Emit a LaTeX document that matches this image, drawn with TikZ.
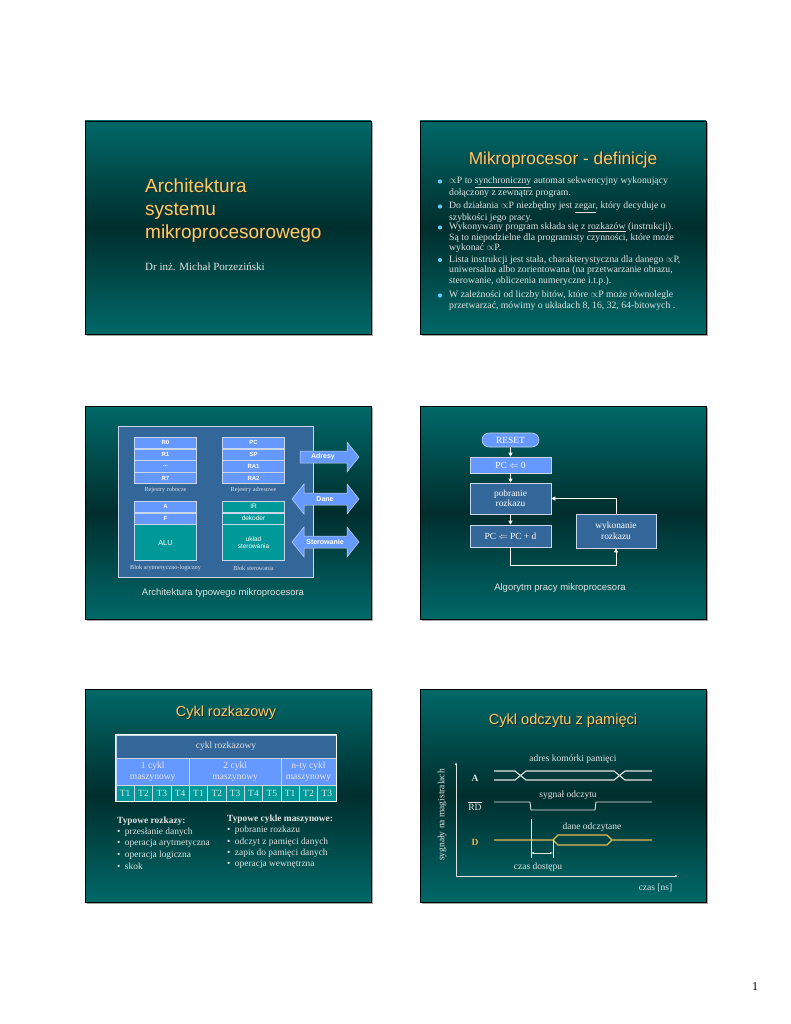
\documentclass[tikz,border=0pt]{standalone}
\usepackage{fontspec}
\setmainfont{Liberation Serif}
\setsansfont{Liberation Sans}
\usetikzlibrary{positioning,arrows.meta}
\tikzset{>=Stealth}
\definecolor{slidetop}{RGB}{0,104,104}
\definecolor{slidemid}{RGB}{0,46,46}
\definecolor{titleyellow}{RGB}{255,204,102}
\definecolor{boxblue}{RGB}{51,102,153}
\definecolor{lightblue}{RGB}{102,153,255}
\definecolor{tealbox}{RGB}{0,153,153}
\definecolor{textgray}{RGB}{228,228,228}
\definecolor{edgegray}{RGB}{200,215,235}
\definecolor{bulletcyan}{RGB}{102,204,255}
\definecolor{signalyellow}{RGB}{230,185,80}

\newcommand{\shadowed}[1]{\makebox[0pt][l]{\hspace{0.9pt}\raisebox{-0.9pt}{\color{black!85}#1}}#1}

\tikzset{
  slide/.style={draw=black, line width=0.8pt, top color=slidetop, bottom color=slidetop, middle color=slidemid},
  slidetitle/.style={font=\sffamily\fontsize{17.3}{20}\selectfont, text=titleyellow, inner sep=0pt},
  bodytext/.style={font=\fontsize{9.5}{10.5}\selectfont, text=textgray, align=left, inner sep=0pt},
  deftext/.style={bodytext, font=\fontsize{9.7}{10.4}\selectfont, anchor=north west},
  caption/.style={font=\sffamily\fontsize{9.5}{11}\selectfont, text=textgray, inner sep=0pt},
  reg/.style={draw=edgegray, line width=0.5pt, fill=lightblue, minimum width=62, minimum height=11.3, inner sep=0pt, text=white, font=\sffamily\bfseries\fontsize{6}{7}\selectfont},
  regteal/.style={reg, fill=tealbox, font=\sffamily\fontsize{6.5}{7.5}\selectfont, align=center},
  smalllabel/.style={font=\fontsize{6.2}{7}\selectfont, text=textgray, inner sep=0pt},
  busarrow/.style={draw=edgegray, fill=lightblue, line width=0.5pt},
  arrowlabel/.style={text=white, font=\sffamily\bfseries\fontsize{7}{8}\selectfont, inner sep=0pt},
  flowbox/.style={draw=edgegray, line width=0.6pt, fill=boxblue, text=white, font=\fontsize{9.4}{10.5}\selectfont, align=center, inner sep=0pt},
  flowlight/.style={flowbox, fill=lightblue},
  flow/.style={draw=white, line width=0.8pt, -{Triangle[length=4pt,width=4pt]}},
  cell/.style={draw=edgegray, line width=0.6pt, inner sep=0pt, text=textgray, font=\fontsize{9.5}{10.5}\selectfont, align=center},
  sig/.style={draw=textgray, line width=1.1pt},
  dsig/.style={draw=signalyellow, line width=1.3pt},
}

\begin{document}
\begin{tikzpicture}[x=1pt,y=-1pt]
\useasboundingbox[fill=white] (0,0) rectangle (791,1024);

% slide frames
\foreach \x in {85,420} {
  \foreach \y in {121,406,689} {
    \fill[black!35] (\x+2,\y+2) rectangle (\x+288,\y+215);
    \draw[slide] (\x,\y) rectangle (\x+286,\y+213);
  }
}

% slide 1 - title page
\node[slidetitle, font=\sffamily\fontsize{19}{23}\selectfont, anchor=north west, align=left] (tit1) at (145,179)
  {\shadowed{Architektura}\\\shadowed{systemu}\\\shadowed{mikroprocesorowego}};
\node[bodytext, font=\fontsize{11}{13}\selectfont, anchor=west] (author) at (145,267) {Dr inż. Michał Porzeziński};

% slide 2 - definitions
\node[slidetitle] (tit2) at (563,160) {\shadowed{Mikroprocesor - definicje}};
\foreach \y in {181.5,206.5,227.5,260,295.5}
  \fill[bulletcyan] (440,\y) circle (2.1);
\node[deftext] (def1) at (449,177)
  {$\propto$P to \underline{synchroniczny} automat sekwencyjny wykonujący\\dołączony z zewnątrz program.};
\node[deftext] (def2) at (449,202)
  {Do działania $\propto$P niezbędny jest \underline{zegar}, który decyduje o\\szybkości jego pracy.};
\node[deftext] (def3) at (449,223)
  {Wykonywany program składa się z \underline{rozkazów} (instrukcji).\\Są to niepodzielne dla programisty czynności, które może\\wykonać $\propto$P.};
\node[deftext] (def4) at (449,255.5)
  {Lista instrukcji jest stała, charakterystyczna dla danego $\propto$P,\\uniwersalna albo zorientowana (na przetwarzanie obrazu,\\sterowanie, obliczenia numeryczne i.t.p.).};
\node[deftext] (def5) at (449,291)
  {W zależności od liczby bitów, które $\propto$P może równolegle\\przetwarzać, mówimy o układach 8, 16, 32, 64-bitowych .};

% slide 3 - architecture
\draw[fill=boxblue, draw=edgegray, line width=0.6pt] (118,426) rectangle (313,577);
\node[reg] (rr0) at (165.5,442.6) {R0};
\node[reg, below=0pt of rr0] (rr1) {R1};
\node[reg, below=0pt of rr1] (rr2) {...};
\node[reg, below=0pt of rr2] (rr7) {R7};
\node[reg] (pc) at (253.5,442.6) {PC};
\node[reg, below=0pt of pc] (sp) {SP};
\node[reg, below=0pt of sp] (ra1) {RA1};
\node[reg, below=0pt of ra1] (ra2) {RA2};
\node[smalllabel] (lrob) at (165.5,490) {Rejestry robocze};
\node[smalllabel] (ladr) at (253.5,490) {Rejestry adresowe};

\node[reg] (ra) at (165.5,506.6) {A};
\node[reg, below=0pt of ra] (rf) {F};
\node[regteal, font=\sffamily\fontsize{7.4}{8}\selectfont, minimum height=36, below=0pt of rf] (alu) {ALU};
\node[regteal] (ir) at (253.5,506.6) {IR};
\node[regteal, below=0pt of ir] (dek) {dekoder};
\node[regteal, minimum height=36, below=0pt of dek] (ster) {układ\\sterowania};
\node[smalllabel] (lalu) at (165.5,568) {Blok arytmetyczno-logiczny};
\node[smalllabel] (lster) at (253.5,568) {Blok sterowania};

% bus arrows
\draw[busarrow] (300,451) -- (347,451) -- (347,442) -- (359,457) -- (347,472) -- (347,463) -- (300,463) -- cycle;
\draw[busarrow] (292,499) -- (304,484) -- (304,493) -- (347,493) -- (347,484) -- (359,499)
  -- (347,514) -- (347,505) -- (304,505) -- (304,514) -- cycle;
\draw[busarrow] (292,542) -- (304,527) -- (304,536) -- (347,536) -- (347,527) -- (359,542)
  -- (347,557) -- (347,548) -- (304,548) -- (304,557) -- cycle;
\node[arrowlabel] (adresy) at (323,457) {Adresy};
\node[arrowlabel] (dane) at (325,499) {Dane};
\node[arrowlabel] (sterow) at (325,542) {Sterowanie};
\node[caption] (cap3) at (223,593) {Architektura typowego mikroprocesora};

% slide 4 - algorithm
\node[flowlight, rounded corners=7, minimum width=57, minimum height=14] (reset) at (510.5,440) {RESET};
\node[flowlight, minimum width=81, minimum height=16] (pc0) at (510.5,465) {PC $\Leftarrow$ 0};
\node[flowbox, minimum width=81, minimum height=31] (pobr) at (510.5,498.5) {pobranie\\rozkazu};
\node[flowbox, minimum width=81, minimum height=22] (pcd) at (510.5,536) {PC $\Leftarrow$ PC + d};
\node[flowbox, minimum width=80, minimum height=34] (wyk) at (616,531) {wykonanie\\rozkazu};
\draw[flow] (reset) -- (pc0);
\draw[flow] (pc0) -- (pobr);
\draw[flow] (pobr) -- (pcd);
\draw[flow] (pcd.south) -- ++(0,18) -| (wyk.south);
\draw[flow] (wyk.north) |- (pobr.east);
\node[caption] (cap4) at (560,588) {Algorytm pracy mikroprocesora};

% slide 5 - instruction cycle
\node[slidetitle, font=\sffamily\fontsize{14.4}{17}\selectfont] (tit5) at (226,713) {\shadowed{Cykl rozkazowy}};
\node[cell, fill=boxblue, minimum width=220, minimum height=23] (cr) at (226,746.5) {cykl rozkazowy};
\node[cell, fill=lightblue, minimum width=73.33, minimum height=27] (m1) at (152.67,771.5) {1 cykl\\maszynowy};
\node[cell, fill=lightblue, minimum width=91.67, minimum height=27] (m2) at (235.17,771.5) {2 cykl\\maszynowy};
\node[cell, fill=lightblue, minimum width=55, minimum height=27] (m3) at (308.5,771.5) {n-ty cykl\\maszynowy};
\foreach \i/\t in {1/T1,2/T2,3/T3,4/T4,5/T1,6/T2,7/T3,8/T4,9/T5,10/T1,11/T2,12/T3}
  \node[cell, fill=tealbox, minimum width=18.33, minimum height=16] (c\i) at ({116+(\i-0.5)*18.333},793) {\t};
\draw[white, line width=1pt] (cr.north west) rectangle (c12.south east);

\node[bodytext, font=\bfseries\fontsize{9.4}{11}\selectfont, anchor=west] (rozk) at (117,821) {Typowe rozkazy:};
\foreach \t [count=\i] in {przesłanie danych, operacja arytmetyczna, operacja logiczna, skok}
  \node[bodytext, font=\fontsize{9.4}{11}\selectfont, anchor=west] (rz\i) at (117,{821+\i*11.4}) {•\hspace{4.5pt}\t};
\node[bodytext, font=\bfseries\fontsize{9.4}{11}\selectfont, anchor=west] (cykle) at (227,819) {Typowe cykle maszynowe:};
\foreach \t [count=\i] in {pobranie rozkazu, odczyt z pamięci danych, zapis do pamięci danych, operacja wewnętrzna}
  \node[bodytext, font=\fontsize{9.4}{11}\selectfont, anchor=west] (cm\i) at (227,{819+\i*11.4}) {•\hspace{4.5pt}\t};

% slide 6 - memory read cycle
\node[slidetitle, font=\sffamily\fontsize{14.6}{17}\selectfont] (tit6) at (563,721) {\shadowed{Cykl odczytu z pamięci}};
\draw[textgray, line width=0.6pt, -{Latex[length=3pt,width=2.5pt]}] (456,876) -- (456,762);
\draw[textgray, line width=0.6pt, -{Latex[length=3pt,width=2.5pt]}] (456,876) -- (678,876);
\node[bodytext, rotate=90] (ylab) at (442,815) {sygnały na magistralach};
\node[bodytext] (xlab) at (655.5,888) {czas [ns]};

\node[bodytext, font=\bfseries\fontsize{9.5}{10.5}\selectfont] (la) at (475,778) {A};
\node[bodytext] (lrd) at (475,806) {$\overline{\mbox{RD}}$};
\node[bodytext, font=\bfseries\fontsize{9.5}{10.5}\selectfont, text=signalyellow] (ld) at (475,842) {D};

% address bus
\draw[sig] (494,771) -- (515,771) -- (526,780) -- (614,780) -- (625,771) -- (652,771);
\draw[sig] (494,780) -- (515,780) -- (526,771) -- (614,771) -- (625,780) -- (652,780);
\node[bodytext] (ladr6) at (573,759) {adres komórki pamięci};
% read strobe
\draw[sig, line width=0.9pt] (494,802) -- (530,802) -- (531,810) -- (595,810) -- (596,802) -- (652,802);
\node[bodytext] (lodcz) at (568,795) {sygnał odczytu};
% data bus
\draw[dsig] (494,840) -- (553,840) -- (558,835) -- (607,835) -- (612,840) -- (652,840);
\draw[dsig] (553,840) -- (558,845) -- (607,845) -- (612,840);
\node[bodytext] (ldane) at (592,827) {dane odczytane};
% access time
\draw[textgray, line width=0.6pt] (531,819) -- (531,858);
\draw[textgray, line width=0.6pt] (553,840) -- (553,858);
\draw[textgray, line width=0.6pt, {Latex[length=3pt,width=2.5pt]}-{Latex[length=3pt,width=2.5pt]}] (531,853) -- (553,853);
\node[bodytext] (ldost) at (538,867) {czas dostępu};

% page number
\node[font=\fontsize{12}{14}\selectfont, inner sep=0pt] (pg) at (755,987) {1};
\end{tikzpicture}
\end{document}
